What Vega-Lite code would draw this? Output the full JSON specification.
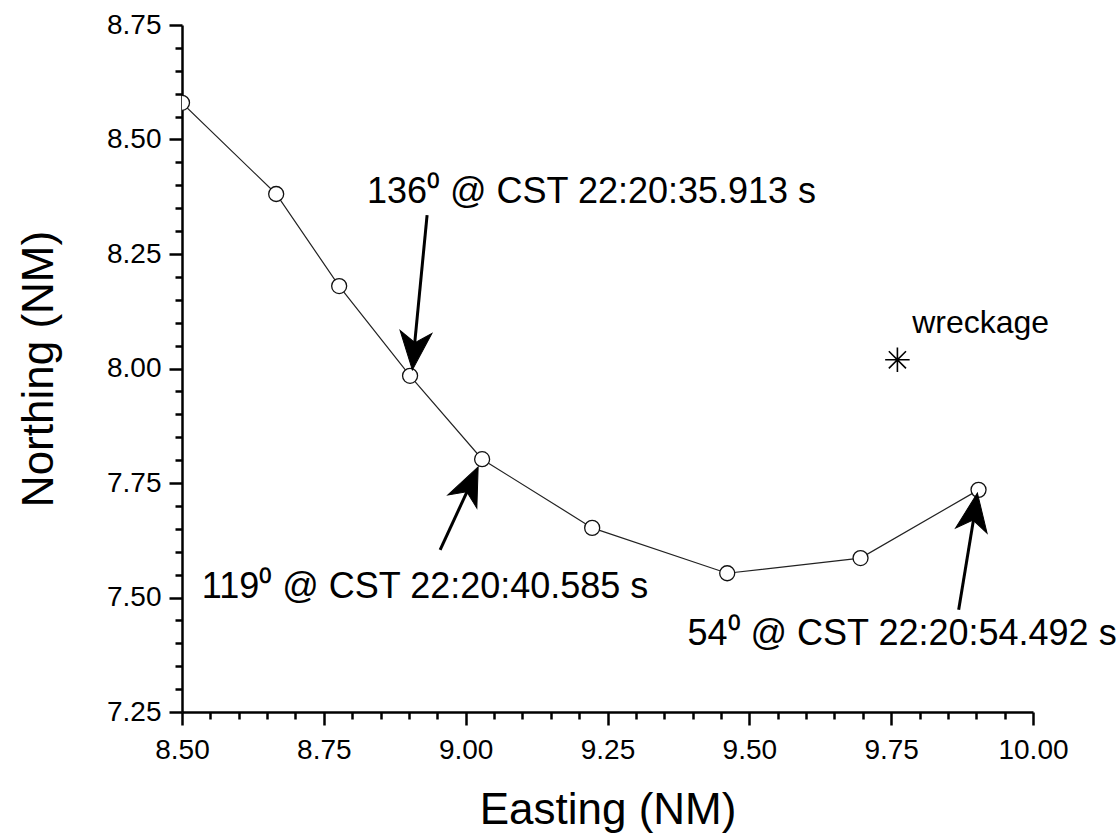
{
  "$schema": "https://vega.github.io/schema/vega-lite/v6.json",
  "width": 851,
  "height": 687,
  "autosize": "none",
  "padding": {"left": 182, "top": 25, "right": 84, "bottom": 122},
  "background": "white",
  "config": {
    "view": {"stroke": null},
    "font": "Liberation Sans",
    "axis": {
      "domainColor": "black",
      "domainWidth": 2.5,
      "tickColor": "black",
      "tickWidth": 2.5,
      "labelColor": "black",
      "titleColor": "black",
      "labelFont": "Liberation Sans",
      "titleFont": "Liberation Sans",
      "titleFontSize": 44,
      "titleFontWeight": "normal",
      "grid": false,
      "labelOverlap": false,
      "labelBound": false,
      "labelFlush": false
    }
  },
  "datasets": {
    "track": [
      {"x": 8.500, "y": 8.580},
      {"x": 8.666, "y": 8.381},
      {"x": 8.777, "y": 8.180},
      {"x": 8.902, "y": 7.984},
      {"x": 9.029, "y": 7.802},
      {"x": 9.223, "y": 7.652},
      {"x": 9.461, "y": 7.553},
      {"x": 9.696, "y": 7.586},
      {"x": 9.904, "y": 7.735}
    ],
    "arrows": [
      {"x": 8.932, "y": 8.335, "x2": 8.909, "y2": 8.040},
      {"x": 8.955, "y": 7.604, "x2": 9.008, "y2": 7.746},
      {"x": 9.869, "y": 7.473, "x2": 9.897, "y2": 7.684}
    ],
    "heads": [
      {"x": 8.906, "y": 7.997, "heading": 185.5},
      {"x": 9.022, "y": 7.785, "heading": 24.6},
      {"x": 9.902, "y": 7.728, "heading": 9.2}
    ],
    "notes": [
      {"x": 8.826, "y": 8.361, "label": "136⁰ @ CST 22:20:35.913 s"},
      {"x": 8.535, "y": 7.499, "label": "119⁰ @ CST 22:20:40.585 s"},
      {"x": 9.391, "y": 7.396, "label": "54⁰ @ CST 22:20:54.492 s"}
    ],
    "wreck": [
      {"x": 9.761, "y": 8.019, "label": "wreckage", "lx": 9.787, "ly": 8.078}
    ]
  },
  "layer": [
    {
      "data": {"name": "track"},
      "mark": {"type": "line", "color": "#222222", "strokeWidth": 1.2, "clip": true},
      "encoding": {
        "x": {
          "field": "x", "type": "quantitative",
          "scale": {"domain": [8.5, 10], "nice": false, "zero": false},
          "axis": {
            "title": "Easting (NM)",
            "orient": "bottom",
            "tickCount": 200,
            "values": [8.5, 8.55, 8.6, 8.65, 8.7, 8.75, 8.8, 8.85, 8.9, 8.95, 9.0, 9.05, 9.1, 9.15, 9.2, 9.25, 9.3, 9.35, 9.4, 9.45, 9.5, 9.55, 9.6, 9.65, 9.7, 9.75, 9.8, 9.85, 9.9, 9.95, 10.0],
            "labelExpr": "abs(datum.value*4 - round(datum.value*4)) < 0.001 ? format(datum.value, '.2f') : ''",
            "labelFontSize": {"condition": {"test": "abs(datum.value*4 - round(datum.value*4)) < 0.001", "value": 28}, "value": 0},
            "tickSize": {"condition": {"test": "abs(datum.value*4 - round(datum.value*4)) < 0.001", "value": 13}, "value": 7},
            "labelOverlap": false,
            "labelPadding": 11,
            "titlePadding": 24
          }
        },
        "y": {
          "field": "y", "type": "quantitative",
          "scale": {"domain": [7.25, 8.75], "nice": false, "zero": false},
          "axis": {
            "title": "Northing (NM)",
            "orient": "left",
            "tickCount": 200,
            "values": [7.25, 7.3, 7.35, 7.4, 7.45, 7.5, 7.55, 7.6, 7.65, 7.7, 7.75, 7.8, 7.85, 7.9, 7.95, 8.0, 8.05, 8.1, 8.15, 8.2, 8.25, 8.3, 8.35, 8.4, 8.45, 8.5, 8.55, 8.6, 8.65, 8.7, 8.75],
            "labelExpr": "abs(datum.value*4 - round(datum.value*4)) < 0.001 ? format(datum.value, '.2f') : ''",
            "labelFontSize": {"condition": {"test": "abs(datum.value*4 - round(datum.value*4)) < 0.001", "value": 28}, "value": 0},
            "tickSize": {"condition": {"test": "abs(datum.value*4 - round(datum.value*4)) < 0.001", "value": 13}, "value": 7},
            "labelOverlap": false,
            "labelPadding": 8,
            "titlePadding": 45
          }
        }
      }
    },
    {
      "data": {"name": "track"},
      "mark": {"type": "point", "shape": "circle", "filled": true, "fill": "white", "stroke": "#111111", "strokeWidth": 1.3, "size": 225, "opacity": 1, "clip": true},
      "encoding": {
        "x": {"field": "x", "type": "quantitative"},
        "y": {"field": "y", "type": "quantitative"}
      }
    },
    {
      "data": {"name": "arrows"},
      "mark": {"type": "rule", "color": "black", "strokeWidth": 3},
      "encoding": {
        "x": {"field": "x", "type": "quantitative"},
        "y": {"field": "y", "type": "quantitative"},
        "x2": {"field": "x2"},
        "y2": {"field": "y2"}
      }
    },
    {
      "data": {"name": "heads"},
      "mark": {"type": "point", "shape": "M0,0 L0.42,1 L0,0.72 L-0.42,1 Z", "filled": true, "fill": "black", "stroke": "black", "strokeWidth": 1, "size": 5776, "opacity": 1},
      "encoding": {
        "x": {"field": "x", "type": "quantitative"},
        "y": {"field": "y", "type": "quantitative"},
        "angle": {"field": "heading", "type": "quantitative", "scale": null}
      }
    },
    {
      "data": {"name": "notes"},
      "mark": {"type": "text", "align": "left", "baseline": "alphabetic", "fontSize": 36, "font": "Liberation Sans", "color": "black"},
      "encoding": {
        "x": {"field": "x", "type": "quantitative"},
        "y": {"field": "y", "type": "quantitative"},
        "text": {"field": "label"}
      }
    },
    {
      "data": {"name": "wreck"},
      "mark": {"type": "point", "shape": "M0,-1L0,1M-1,0L1,0M-0.7,-0.7L0.7,0.7M-0.7,0.7L0.7,-0.7", "filled": false, "stroke": "black", "strokeWidth": 1.6, "size": 600, "opacity": 1},
      "encoding": {
        "x": {"field": "x", "type": "quantitative"},
        "y": {"field": "y", "type": "quantitative"}
      }
    },
    {
      "data": {"name": "wreck"},
      "mark": {"type": "text", "align": "left", "baseline": "alphabetic", "fontSize": 32, "font": "Liberation Sans", "color": "black"},
      "encoding": {
        "x": {"field": "lx", "type": "quantitative"},
        "y": {"field": "ly", "type": "quantitative"},
        "text": {"field": "label"}
      }
    }
  ]
}
